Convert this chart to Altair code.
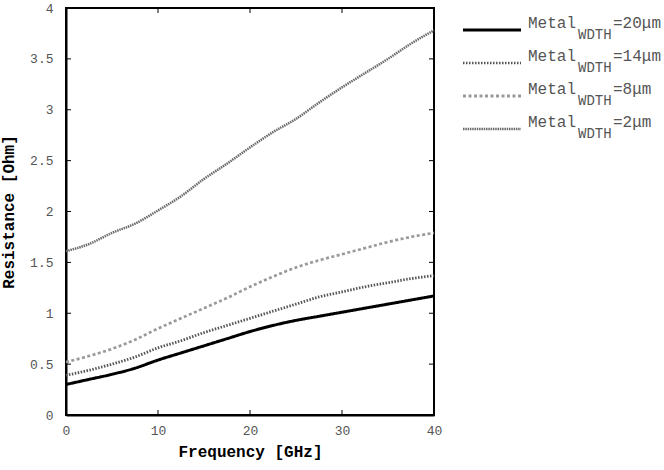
import altair as alt
import pandas as pd

freq = [0, 2.5, 5, 7.5, 10, 12.5, 15, 17.5, 20, 22.5, 25, 27.5, 30, 32.5, 35, 37.5, 40]
r20 = [0.30, 0.35, 0.40, 0.46, 0.54, 0.61, 0.68, 0.75, 0.82, 0.88, 0.93, 0.97, 1.01, 1.05, 1.09, 1.13, 1.17]
r14 = [0.39, 0.44, 0.50, 0.57, 0.66, 0.73, 0.81, 0.88, 0.95, 1.02, 1.09, 1.16, 1.21, 1.26, 1.30, 1.34, 1.37]
r8 = [0.52, 0.58, 0.65, 0.74, 0.85, 0.95, 1.05, 1.15, 1.26, 1.36, 1.45, 1.52, 1.58, 1.64, 1.70, 1.75, 1.79]
r2 = [1.61, 1.68, 1.79, 1.88, 2.01, 2.15, 2.32, 2.47, 2.63, 2.78, 2.91, 3.07, 3.22, 3.36, 3.50, 3.65, 3.78]

series_names = ["20", "14", "8", "2"]
series_vals = [r20, r14, r8, r2]
x_ticks = [0, 10, 20, 30, 40]
y_ticks = [0, 0.5, 1, 1.5, 2, 2.5, 3, 3.5, 4]

colors = ["#000000", "#555555", "#9a9a9a", "#6a6a6a"]
dashes = [[1, 0], [1.5, 1.5], [3, 2.5], [1.5, 0.8]]
widths = [3, 2.5, 3, 2.6]

FONT = "Courier New, Liberation Mono, monospace"
W, H = 368, 407

rows = []
for name, vals in zip(series_names, series_vals):
    for f, v in zip(freq, vals):
        rows.append({"freq": f, "res": v, "series": name})
df = pd.DataFrame(rows)

xs = alt.Scale(domain=[0, 40], nice=False, zero=False)
ys = alt.Scale(domain=[0, 4], nice=False, zero=False)

lines = alt.Chart(df).mark_line(strokeCap="butt", interpolate="monotone").encode(
    x=alt.X("freq:Q", scale=xs,
            axis=alt.Axis(values=x_ticks, title="Frequency [GHz]", ticks=False, format="~g",
                          labelPadding=9, titlePadding=6, labelFlush=False,
                          labelOverlap=False, grid=False)),
    y=alt.Y("res:Q", scale=ys,
            axis=alt.Axis(values=y_ticks, title="Resistance [Ohm]", ticks=False, format="~g",
                          labelPadding=13, titlePadding=13, labelFlush=False,
                          labelOverlap=False, grid=False)),
    color=alt.Color("series:N", scale=alt.Scale(domain=series_names, range=colors), legend=None),
    strokeDash=alt.StrokeDash("series:N", scale=alt.Scale(domain=series_names, range=dashes), legend=None),
    strokeWidth=alt.StrokeWidth("series:N", scale=alt.Scale(domain=series_names, range=widths), legend=None),
    detail="series:N",
)

xt = pd.DataFrame({"t": x_ticks})
yt = pd.DataFrame({"t": y_ticks})
tick_layers = [
    alt.Chart(xt).mark_rule(color="black", strokeWidth=1).encode(
        x=alt.X("t:Q", scale=xs), y=alt.value(H), y2=alt.value(H - 5)),
    alt.Chart(xt).mark_rule(color="black", strokeWidth=1).encode(
        x=alt.X("t:Q", scale=xs), y=alt.value(0), y2=alt.value(5)),
    alt.Chart(yt).mark_rule(color="black", strokeWidth=1).encode(
        y=alt.Y("t:Q", scale=ys), x=alt.value(0), x2=alt.value(5)),
    alt.Chart(yt).mark_rule(color="black", strokeWidth=1).encode(
        y=alt.Y("t:Q", scale=ys), x=alt.value(W), x2=alt.value(W - 5)),
]

# legend (outside plot area, right side)
legend_layers = []
row_y = [22, 55, 88, 121]
for i, name in enumerate(series_names):
    ld = pd.DataFrame({"lab": ["Metal"], "sub": ["WDTH"], "eq": ["=" + name + "\u03bcm"]})
    ly = row_y[i]
    legend_layers.append(
        alt.Chart(ld).mark_rule(color=colors[i], strokeWidth=widths[i], strokeDash=dashes[i],
                                strokeCap="butt").encode(
            x=alt.value(397), x2=alt.value(455), y=alt.value(ly)))
    legend_layers.append(
        alt.Chart(ld).mark_text(align="left", baseline="alphabetic", font=FONT, fontSize=16,
                                color="#555555").encode(
            x=alt.value(462), y=alt.value(ly - 2), text="lab:N"))
    legend_layers.append(
        alt.Chart(ld).mark_text(align="left", baseline="alphabetic", font=FONT, fontSize=14,
                                color="#555555").encode(
            x=alt.value(512), y=alt.value(ly + 9), text="sub:N"))
    legend_layers.append(
        alt.Chart(ld).mark_text(align="left", baseline="alphabetic", font=FONT, fontSize=16,
                                color="#555555").encode(
            x=alt.value(547), y=alt.value(ly - 2), text="eq:N"))

chart = alt.layer(lines, *tick_layers, *legend_layers).properties(
    width=W, height=H,
    padding={"left": 66, "top": 8, "right": 230, "bottom": 55},
    autosize=alt.AutoSizeParams(type="none"),
    background="white",
).configure_view(
    stroke="black", strokeWidth=2
).configure_axis(
    domain=True, domainColor="black", domainWidth=2,
    labelFont=FONT, labelFontSize=13, labelColor="#555555",
    titleFont=FONT, titleFontSize=16, titleFontWeight="bold", titleColor="black",
)

chart.save("out.html", embed_options={"renderer": "svg", "actions": False})
